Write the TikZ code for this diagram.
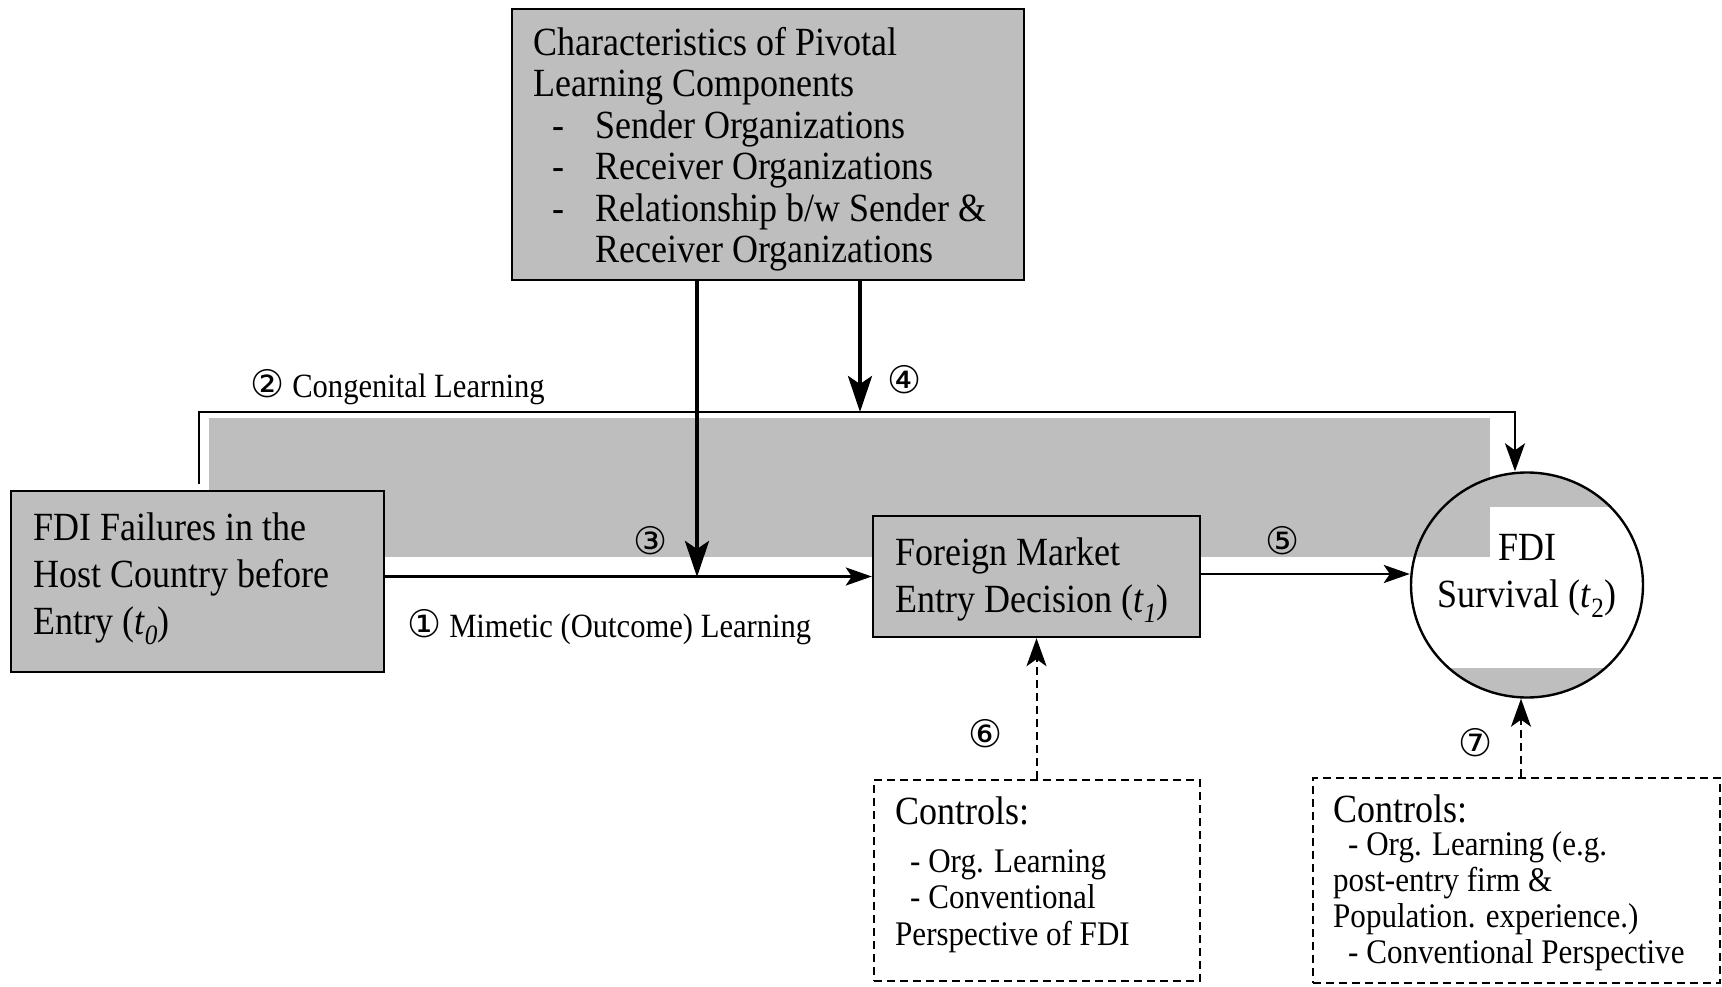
\documentclass[tikz,border=0pt]{standalone}
\usepackage{fontspec}
\setmainfont{Liberation Serif}[FakeStretch=0.9]
\newfontfamily\circfont{DejaVu Sans}
\usetikzlibrary{arrows.meta,shapes.geometric}
\definecolor{bandgray}{RGB}{190,190,190}
\newcommand{\cnum}[1]{{\circfont\fontsize{38}{42}\selectfont #1}}
\begin{document}
\begin{tikzpicture}[x=1pt,y=-1pt,
  box/.style={draw=black, line width=2.4pt, fill=bandgray, inner sep=0pt, rectangle},
  ctrl/.style={draw=black, line width=1.8pt, dash pattern=on 8pt off 5pt, inner sep=0pt, rectangle},
  big/.style={font=\fontsize{40}{47}\selectfont, align=left, inner sep=0pt, anchor=west},
  small/.style={font=\fontsize{34.5}{36.5}\selectfont, align=left, inner sep=0pt, anchor=west},
  lab/.style={font=\fontsize{34}{38}\selectfont, inner sep=0pt, anchor=west},
  num/.style={inner sep=0pt},
  bigarrow/.style={line width=4pt, -{Stealth[length=36pt,width=24pt,inset=8pt]}},
  midarrow/.style={line width=2.8pt, -{Stealth[length=26pt,width=18pt,inset=6pt]}},
  thinarrow/.style={line width=2pt, -{Stealth[length=28pt,width=20pt,inset=7pt]}},
  dasharrow/.style={line width=2pt, dash pattern=on 8pt off 5pt, -{Stealth[length=28pt,width=20pt,inset=7pt]}},
]
\useasboundingbox (0,0) rectangle (1722,987);
\fill[white] (0,0) rectangle (1722,987);

% circle fill and inner white area
\fill[bandgray] (1527,585) ellipse [x radius=116, y radius=112.5];
\begin{scope}
  \clip (1527,585) ellipse [x radius=116, y radius=112.5];
  \fill[white] (1400,507) rectangle (1650,668);
\end{scope}

% shaded band
\fill[bandgray] (209,418) rectangle (1490,557);

% boxes
\node[box, minimum width=512pt, minimum height=271pt] (top) at (768,144.5) {};
\node[box, minimum width=373pt, minimum height=181pt] (fail) at (197.5,581.5) {};
\node[box, minimum width=327pt, minimum height=121pt] (fmed) at (1036.5,576.5) {};
\node[ellipse, draw=black, line width=2.4pt, minimum width=232pt, minimum height=225pt, inner sep=0pt] (surv) at (1527,585) {};
\node[ctrl, minimum width=326pt, minimum height=201pt] (ctrl1) at (1037,880.5) {};
\node[ctrl, minimum width=407pt, minimum height=205pt] (ctrl2) at (1516.5,880.5) {};

% texts
\node[big, font=\fontsize{40}{41.5}\selectfont] (toptxt) at (533,149)
  {Characteristics of Pivotal\\Learning Components\\
   \hspace*{19pt}\makebox[43pt][l]{-}Sender Organizations\\
   \hspace*{19pt}\makebox[43pt][l]{-}Receiver Organizations\\
   \hspace*{19pt}\makebox[43pt][l]{-}Relationship b/w Sender \&\\
   \hspace*{62pt}Receiver Organizations};
\node[big] (failtxt) at (33,578.5)
  {FDI Failures in the\\Host Country before\\Entry (\textit{t}\textsubscript{\textit{0}})};
\node[big] (fmedtxt) at (895,580)
  {Foreign Market\\Entry Decision (\textit{t}\textsubscript{\textit{1}})};
\node[big, align=center, anchor=center] (survtxt) at (1527,576)
  {FDI\\Survival (\textit{t}\textsubscript{2})};

\node[big] (c1head) at (895,811) {Controls:};
\node[small] (c1list) at (895,901)
  {\hspace*{15pt}- Org. Learning\\\hspace*{15pt}- Conventional\\Perspective of FDI};
\node[big] (c2head) at (1333,809) {Controls:};
\node[small, font=\fontsize{34.5}{36}\selectfont] (c2list) at (1333,901.5)
  {\hspace*{15pt}- Org. Learning (e.g.\\post-entry firm \&\\Population. experience.)\\\hspace*{15pt}- Conventional Perspective};

% labels
\node[lab] (l2) at (250,387) {\cnum{②}\hspace{8pt}Congenital Learning};
\node[lab] (l1) at (407,627) {\cnum{①}\hspace{8pt}Mimetic (Outcome) Learning};
\node[num] (l3) at (651,541) {\cnum{③}};
\node[num] (l4) at (905,380) {\cnum{④}};
\node[num] (l5) at (1283,541) {\cnum{⑤}};
\node[num] (l6) at (986,734) {\cnum{⑥}};
\node[num] (l7) at (1476,743) {\cnum{⑦}};

% connectors
\coordinate (m3) at (697,577);
\coordinate (m4) at (860,412);
\coordinate (c0) at (199,484);
\coordinate (c1) at (1515,412);
\coordinate (d7) at (1521,0);

\draw[midarrow] (fail.east |- fmed.west) -- (fmed.west);
\draw[thinarrow] (c0) |- (c1) -- (c1 |- surv.north);
\draw[bigarrow] (top.south -| m3) -- (m3);
\draw[bigarrow] (top.south -| m4) -- (m4);
\draw[midarrow] ([yshift=2.5pt]fmed.east) -- ([yshift=2.5pt]fmed.east -| surv.west);
\draw[dasharrow] (ctrl1.north -| fmed.south) -- (fmed.south);
\draw[dasharrow] (ctrl2.north -| d7) -- (surv.south -| d7);
\end{tikzpicture}
\end{document}
